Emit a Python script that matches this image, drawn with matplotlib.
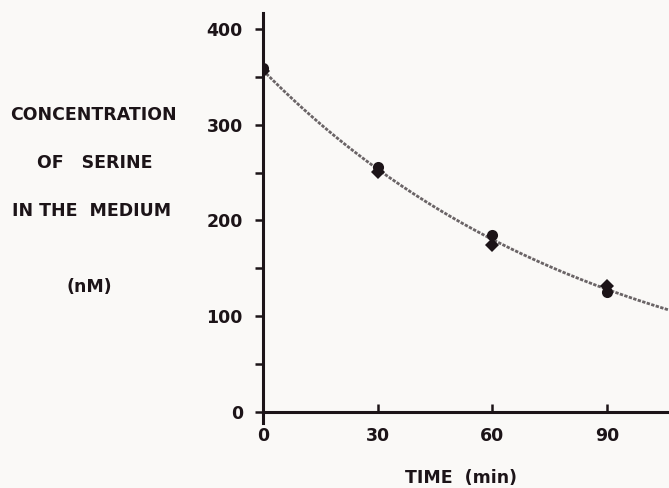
import matplotlib
matplotlib.use('agg')
import matplotlib.pyplot as plt
import numpy as np

# readings (time in min, serine in nM)
t_circle = [0, 30, 60, 90]
c_circle = [359, 256, 185, 125]
t_diamond = [0, 30, 60, 90]
c_diamond = [356, 251, 174, 132]

x_ticks = [0, 30, 60, 90]
y_ticks = [0, 100, 200, 300, 400]
y_minor = [50, 150, 250, 350]
ylabel_lines = ['CONCENTRATION', 'OF   SERINE', 'IN THE  MEDIUM', '(nM)']

W, H = 669, 488
ink = '#1c1418'
bg = '#faf9f7'

plt.rcParams['font.family'] = 'DejaVu Sans'
plt.rcParams['font.weight'] = 'bold'

fig = plt.figure(figsize=(W / 100, H / 100), dpi=100, facecolor=bg)
# y=0 sits at pixel row 412, y=400 at row 29, x=0 at col 263, x=30 at col 378
ax = fig.add_axes([263 / W, (H - 423) / H, (W - 263) / W, 410 / H])
ax.set_facecolor(bg)
ax.set_xlim(0, 106.2)
ax.set_ylim(-11.5, 416.7)

# exponential fit through all points for the decay curve
t_all = np.array(t_circle + t_diamond, dtype=float)
c_all = np.array(c_circle + c_diamond, dtype=float)
slope, icpt = np.polyfit(t_all, np.log(c_all), 1)
tt = np.linspace(0, 106.2, 200)
ax.plot(tt, np.exp(icpt + slope * tt), color='#6a6466', lw=2.0,
        ls=(0, (1.2, 0.5)), zorder=2)

ax.plot(t_diamond, c_diamond, 'D', color=ink, ms=7, mew=0, zorder=3)
ax.plot(t_circle, c_circle, 'o', color=ink, ms=8, mew=0, zorder=4)

for s in ['top', 'right']:
    ax.spines[s].set_visible(False)
ax.spines['bottom'].set_position(('data', 0))
for s in ['left', 'bottom']:
    ax.spines[s].set_linewidth(2.2)
    ax.spines[s].set_color(ink)

ax.set_xticks(x_ticks)
ax.set_xticklabels([str(v) for v in x_ticks])
ax.set_yticks(y_ticks)
ax.set_yticklabels([str(v) for v in y_ticks])
ax.set_yticks(y_minor, minor=True)
ax.tick_params(axis='x', direction='in', length=6, width=1.8, color=ink,
               labelsize=12.5, pad=11, labelcolor=ink)
ax.tick_params(axis='y', which='both', direction='out', length=6, width=1.8,
               color=ink, labelsize=12.5, pad=8.5, labelcolor=ink)

fig.text(461 / W, 1 - 478 / H, 'TIME  (min)', ha='center', va='center',
         fontsize=12.5, fontweight='bold', color=ink)

rows = [115, 163, 211, 287]
cols = [93, 95, 92, 89]
for txt, yy, xx in zip(ylabel_lines, rows, cols):
    fig.text(xx / W, 1 - yy / H, txt, ha='center', va='center',
             fontsize=12.5, fontweight='bold', color=ink)

fig.savefig('out.png', dpi=100, facecolor=bg)
